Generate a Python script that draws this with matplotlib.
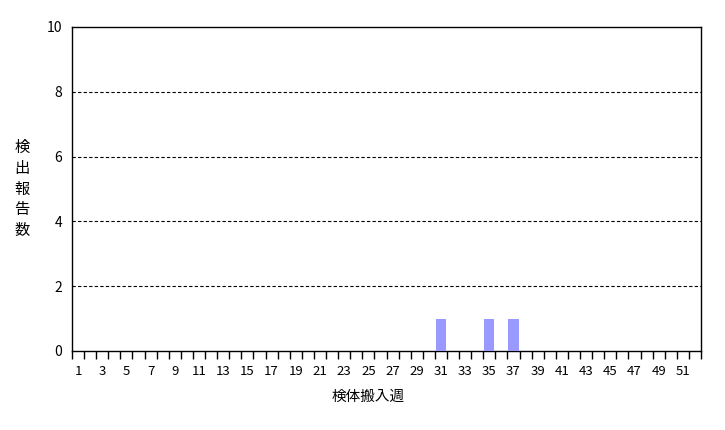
import numpy as np
import matplotlib
matplotlib.use("Agg")
import matplotlib.pyplot as plt
from matplotlib.ticker import FixedLocator, NullFormatter

plt.rcParams['font.family'] = ['Noto Sans CJK JP', 'DejaVu Sans']

# ── データ ───────────────────────────────────────────────
weeks  = np.arange(1, 53)
counts = np.zeros(52)
hit_weeks  = [31, 35, 37]
hit_counts = [1, 1, 1]
for w, c in zip(hit_weeks, hit_counts):
    counts[w - 1] = c

y_ticks = [0, 2, 4, 6, 8, 10]
x_labels = [str(w) if w % 2 == 1 else "" for w in weeks]

# ── グラフ ───────────────────────────────────────────────
fig = plt.figure(figsize=(7.25, 4.3), dpi=100)
ax = fig.add_axes([72/725, 79/430, 629/725, 324/430])

ax.bar(weeks, counts, width=0.85, color="#9999FF", edgecolor="none", zorder=3)

ax.set_xlim(0.5, 52.5)
ax.set_ylim(0, 10)

# y軸
ax.set_yticks(y_ticks)
ax.set_yticklabels([str(v) for v in y_ticks], fontsize=10)
ax.tick_params(axis="y", length=0, pad=7)
for v in y_ticks[1:-1]:
    ax.axhline(v, color="black", lw=0.8, ls=(0, (3, 2)), zorder=1)

# x軸: 目盛は区切り位置、ラベルは中央
ax.xaxis.set_major_locator(FixedLocator(np.arange(0.5, 53.5, 1)))
ax.xaxis.set_major_formatter(NullFormatter())
ax.xaxis.set_minor_locator(FixedLocator(weeks))
ax.set_xticklabels(x_labels, minor=True, fontsize=9.5)
ax.tick_params(axis="x", which="major", length=6, width=1, direction="out")
ax.tick_params(axis="x", which="minor", length=0, pad=10)

for s in ax.spines.values():
    s.set_linewidth(1)
    s.set_color("black")

fig.text(368/725, 1 - 397/430, "検体搬入週", ha="center", va="center", fontsize=10.5)
fig.text(22/725, 1 - 189/430, "検\n出\n報\n告\n数", ha="center", va="center",
         fontsize=11, linespacing=1.3)

fig.savefig("out.png", dpi=100)
